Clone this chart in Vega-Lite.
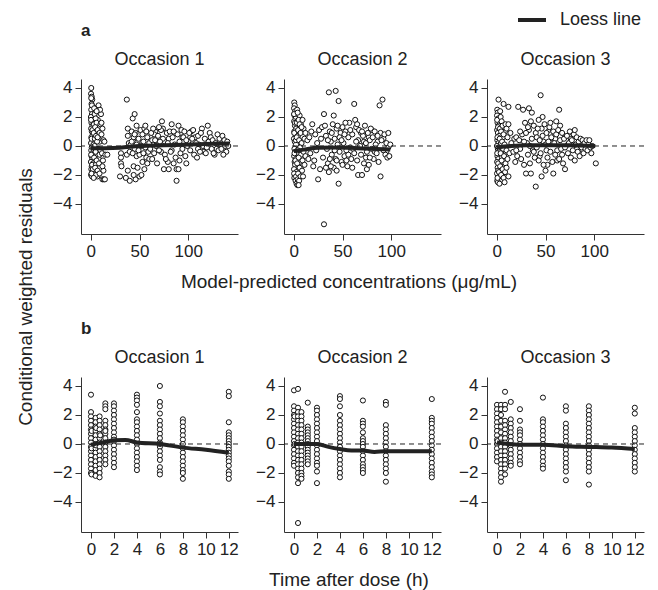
{
"$schema":"https://vega.github.io/schema/vega-lite/v6.json",
"padding":{"left":16,"top":4,"right":5,"bottom":0},
"config":{"font":"Liberation Sans","view":{"stroke":null},
"axis":{"grid":false,"domainColor":"#333","tickColor":"#333","labelColor":"#222","labelFontSize":17,"tickSize":6,"labelPadding":3,"labelFlush":false,"labelOverlap":false,"titleFontWeight":"normal"},
"header":{"labelFontSize":18,"labelColor":"#222","titleColor":"#222"},
"title":{"color":"#222"}},
"title":{"text":"Conditional weighted residuals","orient":"left","anchor":"middle","fontSize":19,"fontWeight":"normal","offset":17},
"datasets":{
"A":[
{"o":1,"x":0.5,"y":4.0},{"o":1,"x":0.3,"y":3.6},{"o":1,"x":1,"y":3.4},{"o":1,"x":1.5,"y":3.2},{"o":1,"x":0.8,"y":2.9},{"o":1,"x":2,"y":2.7},{"o":1,"x":0.5,"y":2.5},{"o":1,"x":1.2,"y":2.2},{"o":1,"x":0.2,"y":2.0},{"o":1,"x":2.5,"y":1.8},{"o":1,"x":0.7,"y":1.6},{"o":1,"x":1.8,"y":1.4},{"o":1,"x":0.4,"y":1.2},{"o":1,"x":1.1,"y":1.0},{"o":1,"x":2.2,"y":0.8},{"o":1,"x":0.6,"y":0.6},{"o":1,"x":1.5,"y":0.4},{"o":1,"x":0.3,"y":0.2},{"o":1,"x":2.8,"y":0.1},{"o":1,"x":1.0,"y":-0.1},{"o":1,"x":0.5,"y":-0.3},{"o":1,"x":2.0,"y":-0.5},{"o":1,"x":0.8,"y":-0.7},{"o":1,"x":1.6,"y":-0.9},{"o":1,"x":0.2,"y":-1.1},{"o":1,"x":2.4,"y":-1.2},{"o":1,"x":1.0,"y":-1.4},{"o":1,"x":0.6,"y":-1.6},{"o":1,"x":1.9,"y":-1.8},{"o":1,"x":0.4,"y":-2.0},{"o":1,"x":1.3,"y":-2.1},
{"o":1,"x":0.5,"y":3.3},{"o":1,"x":1.2,"y":2.8},{"o":1,"x":0.3,"y":1.8},{"o":1,"x":1.7,"y":1.1},{"o":1,"x":0.9,"y":0.5},{"o":1,"x":2.6,"y":-0.2},{"o":1,"x":0.4,"y":-0.6},{"o":1,"x":1.4,"y":-1.3},{"o":1,"x":2.2,"y":-1.6},{"o":1,"x":0.8,"y":-1.9},{"o":1,"x":3.2,"y":1.5},{"o":1,"x":4.2,"y":0.5},{"o":1,"x":5.2,"y":-1.3},{"o":1,"x":6.2,"y":-0.6},{"o":1,"x":7.2,"y":1.8},{"o":1,"x":8.2,"y":-0.9},{"o":1,"x":9.2,"y":0.3},{"o":1,"x":10.5,"y":2.2},{"o":1,"x":4.8,"y":2.6},{"o":1,"x":6.8,"y":-2.1},
{"o":1,"x":3.5,"y":2.6},{"o":1,"x":4,"y":2.2},{"o":1,"x":5,"y":1.9},{"o":1,"x":6,"y":1.6},{"o":1,"x":4.5,"y":1.3},{"o":1,"x":7,"y":1.1},{"o":1,"x":3,"y":0.9},{"o":1,"x":5.5,"y":0.7},{"o":1,"x":8,"y":0.5},{"o":1,"x":6.5,"y":0.3},{"o":1,"x":4,"y":0.0},{"o":1,"x":7.5,"y":-0.2},{"o":1,"x":5,"y":-0.4},{"o":1,"x":9,"y":-0.6},{"o":1,"x":3.5,"y":-0.8},{"o":1,"x":6,"y":-1.0},{"o":1,"x":8.5,"y":-1.2},{"o":1,"x":4.5,"y":-1.5},{"o":1,"x":7,"y":-1.7},{"o":1,"x":5.5,"y":-2.0},{"o":1,"x":3,"y":-2.2},{"o":1,"x":9,"y":-1.9},{"o":1,"x":8,"y":2.8},{"o":1,"x":9.5,"y":2.5},{"o":1,"x":10,"y":1.5},{"o":1,"x":9,"y":0.9},{"o":1,"x":10,"y":-0.3},{"o":1,"x":6,"y":2.4},{"o":1,"x":7,"y":0.6},
{"o":1,"x":11,"y":1.6},{"o":1,"x":12,"y":1.2},{"o":1,"x":13,"y":0.4},{"o":1,"x":11.5,"y":-0.5},{"o":1,"x":12.5,"y":-1.0},{"o":1,"x":13,"y":-1.7},{"o":1,"x":12,"y":-2.3},{"o":1,"x":13.5,"y":-2.3},{"o":1,"x":14.5,"y":-2.3},{"o":1,"x":14,"y":0.3},{"o":1,"x":15,"y":-0.6},{"o":1,"x":17,"y":-0.6},{"o":1,"x":11,"y":0.8},{"o":1,"x":12,"y":-1.4},
{"o":1,"x":31,"y":-0.5},{"o":1,"x":31,"y":-0.8},{"o":1,"x":31,"y":-1.2},{"o":1,"x":31.5,"y":-1.4},{"o":1,"x":30,"y":-2.1},{"o":1,"x":37,"y":3.2},{"o":1,"x":36,"y":-2.2},{"o":1,"x":38,"y":1.2},{"o":1,"x":38,"y":0.7},{"o":1,"x":39,"y":0.2},{"o":1,"x":37,"y":-0.6},{"o":1,"x":40,"y":-0.4},{"o":1,"x":38,"y":-1.7},{"o":1,"x":40,"y":-2.4},
{"o":1,"x":43,"y":1.9},{"o":1,"x":45,"y":2.2},{"o":1,"x":47,"y":1.4},{"o":1,"x":42,"y":1.0},{"o":1,"x":44,"y":0.6},{"o":1,"x":46,"y":0.9},{"o":1,"x":48,"y":0.3},{"o":1,"x":41,"y":0.1},{"o":1,"x":45,"y":-0.2},{"o":1,"x":43,"y":-0.5},{"o":1,"x":47,"y":-0.7},{"o":1,"x":50,"y":-0.6},{"o":1,"x":44,"y":-1.4},{"o":1,"x":48,"y":-1.5},{"o":1,"x":46,"y":-2.3},{"o":1,"x":44,"y":-2.0},{"o":1,"x":50,"y":-2.1},{"o":1,"x":52,"y":-2.0},{"o":1,"x":51,"y":1.1},{"o":1,"x":53,"y":0.8},{"o":1,"x":55,"y":1.2},{"o":1,"x":54,"y":0.3},{"o":1,"x":56,"y":-0.1},{"o":1,"x":57,"y":-0.8},{"o":1,"x":58,"y":0.6},{"o":1,"x":59,"y":-0.4},{"o":1,"x":55,"y":-1.6},{"o":1,"x":52,"y":0.0},{"o":1,"x":49,"y":0.5},{"o":1,"x":53,"y":-1.1},{"o":1,"x":57,"y":1.0},{"o":1,"x":60,"y":0.2},
{"o":1,"x":42,"y":0.3},{"o":1,"x":45,"y":0.8},{"o":1,"x":49,"y":-0.3},{"o":1,"x":54,"y":-0.5},{"o":1,"x":56,"y":1.4},{"o":1,"x":60,"y":-0.9},{"o":1,"x":63,"y":0.4},{"o":1,"x":66,"y":1.0},{"o":1,"x":68,"y":0.2},{"o":1,"x":72,"y":-0.4},{"o":1,"x":74,"y":1.2},{"o":1,"x":76,"y":0.3},{"o":1,"x":80,"y":0.5},{"o":1,"x":83,"y":-0.3},{"o":1,"x":86,"y":0.9},{"o":1,"x":91,"y":-1.0},{"o":1,"x":94,"y":0.6},{"o":1,"x":100,"y":0.3},{"o":1,"x":103,"y":1.0},{"o":1,"x":107,"y":0.6},{"o":1,"x":111,"y":0.1},{"o":1,"x":114,"y":1.2},{"o":1,"x":116,"y":-0.4},{"o":1,"x":122,"y":0.9},{"o":1,"x":129,"y":-0.2},{"o":1,"x":132,"y":0.5},{"o":1,"x":135,"y":0.7},{"o":1,"x":137,"y":0.4},{"o":1,"x":139,"y":-0.4},{"o":1,"x":98,"y":-1.2},{"o":1,"x":79,"y":-1.1},{"o":1,"x":65,"y":0.8},{"o":1,"x":58,"y":-1.2},{"o":1,"x":47,"y":0.1},{"o":1,"x":102,"y":0.6},{"o":1,"x":110,"y":-0.2},
{"o":1,"x":62,"y":0.9},{"o":1,"x":64,"y":1.2},{"o":1,"x":66,"y":0.4},{"o":1,"x":65,"y":-0.5},{"o":1,"x":63,"y":-0.9},{"o":1,"x":67,"y":0.0},{"o":1,"x":69,"y":0.7},{"o":1,"x":70,"y":-0.3},{"o":1,"x":68,"y":-1.2},{"o":1,"x":72,"y":1.1},{"o":1,"x":73,"y":1.7},{"o":1,"x":74,"y":0.5},{"o":1,"x":75,"y":-1.6},{"o":1,"x":76,"y":-0.6},{"o":1,"x":78,"y":0.9},{"o":1,"x":79,"y":0.2},{"o":1,"x":80,"y":-1.6},{"o":1,"x":81,"y":1.0},{"o":1,"x":82,"y":-0.4},{"o":1,"x":83,"y":1.5},{"o":1,"x":84,"y":0.6},{"o":1,"x":85,"y":-1.2},{"o":1,"x":86,"y":0.1},{"o":1,"x":87,"y":-0.8},{"o":1,"x":88,"y":-2.4},{"o":1,"x":88,"y":-1.6},{"o":1,"x":90,"y":-1.6},{"o":1,"x":89,"y":0.8},{"o":1,"x":90,"y":1.4},{"o":1,"x":91,"y":0.3},{"o":1,"x":92,"y":-0.5},{"o":1,"x":93,"y":1.1},{"o":1,"x":94,"y":-0.2},{"o":1,"x":95,"y":0.6},{"o":1,"x":96,"y":1.0},{"o":1,"x":97,"y":-0.7},{"o":1,"x":98,"y":0.4},{"o":1,"x":99,"y":0.0},{"o":1,"x":70,"y":1.3},{"o":1,"x":77,"y":-0.9},{"o":1,"x":85,"y":1.0},{"o":1,"x":61,"y":-0.2},{"o":1,"x":71,"y":0.3},
{"o":1,"x":101,"y":0.9},{"o":1,"x":102,"y":-0.3},{"o":1,"x":104,"y":0.5},{"o":1,"x":105,"y":1.1},{"o":1,"x":106,"y":-0.6},{"o":1,"x":108,"y":0.2},{"o":1,"x":110,"y":0.7},{"o":1,"x":112,"y":-0.4},{"o":1,"x":113,"y":0.9},{"o":1,"x":115,"y":0.0},{"o":1,"x":117,"y":0.5},{"o":1,"x":118,"y":-0.5},{"o":1,"x":120,"y":1.4},{"o":1,"x":121,"y":0.3},{"o":1,"x":123,"y":0.6},{"o":1,"x":124,"y":-0.2},{"o":1,"x":125,"y":0.4},{"o":1,"x":127,"y":-0.6},{"o":1,"x":128,"y":0.2},{"o":1,"x":130,"y":0.8},{"o":1,"x":131,"y":-0.3},{"o":1,"x":133,"y":0.1},{"o":1,"x":134,"y":-0.2},{"o":1,"x":136,"y":-0.6},{"o":1,"x":138,"y":0.0},{"o":1,"x":140,"y":0.3},{"o":1,"x":141,"y":0.0},{"o":1,"x":126,"y":-0.5},{"o":1,"x":119,"y":-0.1},{"o":1,"x":109,"y":-0.8},
{"o":2,"x":0.5,"y":3.0},{"o":2,"x":1,"y":2.8},{"o":2,"x":0.3,"y":2.6},{"o":2,"x":1.5,"y":2.4},{"o":2,"x":0.8,"y":2.1},{"o":2,"x":2,"y":1.9},{"o":2,"x":0.4,"y":1.7},{"o":2,"x":1.2,"y":1.4},{"o":2,"x":2.5,"y":1.2},{"o":2,"x":0.6,"y":1.0},{"o":2,"x":1.8,"y":0.8},{"o":2,"x":0.2,"y":0.5},{"o":2,"x":1.1,"y":0.3},{"o":2,"x":2.3,"y":0.1},{"o":2,"x":0.7,"y":-0.2},{"o":2,"x":1.6,"y":-0.4},{"o":2,"x":0.4,"y":-0.7},{"o":2,"x":2.1,"y":-0.9},{"o":2,"x":0.9,"y":-1.1},{"o":2,"x":1.4,"y":-1.3},{"o":2,"x":0.3,"y":-1.6},{"o":2,"x":2.6,"y":-1.8},{"o":2,"x":1.0,"y":-2.0},{"o":2,"x":0.6,"y":-2.2},{"o":2,"x":1.9,"y":-2.4},{"o":2,"x":2.9,"y":-2.6},
{"o":2,"x":0.3,"y":2.2},{"o":2,"x":1.3,"y":1.6},{"o":2,"x":0.5,"y":0.9},{"o":2,"x":2.2,"y":0.4},{"o":2,"x":0.8,"y":-0.5},{"o":2,"x":1.7,"y":-1.0},{"o":2,"x":0.4,"y":-1.9},{"o":2,"x":2.4,"y":-2.1},{"o":2,"x":3.2,"y":1.6},{"o":2,"x":4.3,"y":0.7},{"o":2,"x":5.3,"y":-0.5},{"o":2,"x":6.3,"y":-1.2},{"o":2,"x":7.3,"y":1.5},{"o":2,"x":8.3,"y":-1.4},{"o":2,"x":6,"y":2.1},{"o":2,"x":4,"y":-2.3},
{"o":2,"x":3.5,"y":2.5},{"o":2,"x":4,"y":2.3},{"o":2,"x":5,"y":1.8},{"o":2,"x":6,"y":1.5},{"o":2,"x":4.5,"y":1.1},{"o":2,"x":7,"y":0.9},{"o":2,"x":3,"y":0.6},{"o":2,"x":5.5,"y":0.4},{"o":2,"x":8,"y":0.2},{"o":2,"x":6.5,"y":-0.1},{"o":2,"x":4,"y":-0.3},{"o":2,"x":7.5,"y":-0.6},{"o":2,"x":5,"y":-0.8},{"o":2,"x":9,"y":-1.0},{"o":2,"x":3.5,"y":-1.2},{"o":2,"x":6,"y":-1.5},{"o":2,"x":8.5,"y":-1.7},{"o":2,"x":4.5,"y":-1.9},{"o":2,"x":7,"y":-2.1},{"o":2,"x":5.5,"y":-2.4},{"o":2,"x":3.8,"y":-2.7},{"o":2,"x":5,"y":-2.7},{"o":2,"x":9,"y":1.8},{"o":2,"x":10,"y":1.2},{"o":2,"x":11,"y":0.5},{"o":2,"x":10,"y":-0.4},{"o":2,"x":11,"y":-1.3},{"o":2,"x":12,"y":0.9},{"o":2,"x":12,"y":-0.7},{"o":2,"x":8,"y":1.3},{"o":2,"x":9.5,"y":-2.1},
{"o":2,"x":14,"y":0.4},{"o":2,"x":15,"y":-0.9},{"o":2,"x":16,"y":0.6},{"o":2,"x":17,"y":-0.5},{"o":2,"x":19,"y":1.5},{"o":2,"x":21,"y":-1.0},{"o":2,"x":20,"y":-1.4},{"o":2,"x":22,"y":0.8},{"o":2,"x":24,"y":0.2},{"o":2,"x":25,"y":-2.3},{"o":2,"x":23,"y":-0.3},{"o":2,"x":26,"y":1.1},{"o":2,"x":27,"y":-1.6},{"o":2,"x":28,"y":0.5},{"o":2,"x":29,"y":1.3},{"o":2,"x":30,"y":-0.8},{"o":2,"x":18,"y":1.0},
{"o":2,"x":31,"y":-5.4},{"o":2,"x":31,"y":2.2},{"o":2,"x":36,"y":3.7},{"o":2,"x":43,"y":3.8},{"o":2,"x":46,"y":3.1},{"o":2,"x":41,"y":2.1},{"o":2,"x":32,"y":1.4},{"o":2,"x":33,"y":0.7},{"o":2,"x":34,"y":-0.2},{"o":2,"x":35,"y":-1.2},{"o":2,"x":36,"y":-1.8},{"o":2,"x":37,"y":1.0},{"o":2,"x":38,"y":0.3},{"o":2,"x":39,"y":-0.6},{"o":2,"x":40,"y":1.5},{"o":2,"x":41,"y":-1.5},{"o":2,"x":42,"y":0.5},{"o":2,"x":43,"y":-0.9},{"o":2,"x":44,"y":1.2},{"o":2,"x":45,"y":0.1},{"o":2,"x":46,"y":-2.6},{"o":2,"x":47,"y":-0.4},{"o":2,"x":48,"y":0.9},{"o":2,"x":49,"y":-1.1},{"o":2,"x":50,"y":1.3},{"o":2,"x":51,"y":0.2},{"o":2,"x":52,"y":-0.7},{"o":2,"x":53,"y":1.0},{"o":2,"x":54,"y":-0.3},{"o":2,"x":55,"y":-1.4},{"o":2,"x":56,"y":0.6},{"o":2,"x":57,"y":1.6},{"o":2,"x":58,"y":-0.1},{"o":2,"x":59,"y":-0.9},{"o":2,"x":60,"y":0.8},{"o":2,"x":38,"y":-1.4},{"o":2,"x":44,"y":-1.7},{"o":2,"x":50,"y":-1.3},
{"o":2,"x":33,"y":-1.5},{"o":2,"x":35,"y":0.4},{"o":2,"x":37,"y":-0.9},{"o":2,"x":39,"y":0.9},{"o":2,"x":42,"y":-0.3},{"o":2,"x":45,"y":1.4},{"o":2,"x":47,"y":0.6},{"o":2,"x":49,"y":0.4},{"o":2,"x":52,"y":0.8},{"o":2,"x":54,"y":-1.0},{"o":2,"x":56,"y":-0.6},{"o":2,"x":58,"y":1.1},{"o":2,"x":61,"y":-0.2},{"o":2,"x":64,"y":1.3},{"o":2,"x":66,"y":0.4},{"o":2,"x":69,"y":0.9},{"o":2,"x":72,"y":0.3},{"o":2,"x":74,"y":-0.8},{"o":2,"x":77,"y":0.6},{"o":2,"x":80,"y":1.1},{"o":2,"x":83,"y":-0.4},{"o":2,"x":86,"y":0.3},{"o":2,"x":89,"y":0.9},{"o":2,"x":92,"y":0.5},{"o":2,"x":95,"y":-0.4},{"o":2,"x":97,"y":-0.1},{"o":2,"x":44,"y":-1.0},{"o":2,"x":60,"y":-1.5},{"o":2,"x":75,"y":-1.6},{"o":2,"x":53,"y":1.6},
{"o":2,"x":62,"y":2.9},{"o":2,"x":62,"y":-0.5},{"o":2,"x":63,"y":1.8},{"o":2,"x":64,"y":0.3},{"o":2,"x":65,"y":-1.0},{"o":2,"x":66,"y":-2.0},{"o":2,"x":67,"y":1.1},{"o":2,"x":68,"y":0.0},{"o":2,"x":69,"y":-0.6},{"o":2,"x":70,"y":-2.0},{"o":2,"x":71,"y":0.7},{"o":2,"x":72,"y":-1.2},{"o":2,"x":73,"y":1.4},{"o":2,"x":74,"y":0.2},{"o":2,"x":75,"y":-0.4},{"o":2,"x":76,"y":0.9},{"o":2,"x":77,"y":-1.3},{"o":2,"x":78,"y":0.4},{"o":2,"x":79,"y":1.2},{"o":2,"x":80,"y":-0.2},{"o":2,"x":81,"y":0.6},{"o":2,"x":82,"y":-0.9},{"o":2,"x":83,"y":1.0},{"o":2,"x":84,"y":0.1},{"o":2,"x":85,"y":-0.5},{"o":2,"x":86,"y":0.7},{"o":2,"x":87,"y":-1.1},{"o":2,"x":88,"y":2.8},{"o":2,"x":89,"y":-2.1},{"o":2,"x":90,"y":0.4},{"o":2,"x":91,"y":3.2},{"o":2,"x":92,"y":-0.3},{"o":2,"x":93,"y":0.8},{"o":2,"x":94,"y":-0.6},{"o":2,"x":95,"y":0.2},{"o":2,"x":96,"y":-0.8},{"o":2,"x":97,"y":0.9},{"o":2,"x":98,"y":-0.7},{"o":2,"x":99,"y":0.1},{"o":2,"x":65,"y":1.5},{"o":2,"x":70,"y":1.0},{"o":2,"x":78,"y":-0.8},
{"o":3,"x":1.8,"y":3.2},{"o":3,"x":0.5,"y":2.5},{"o":3,"x":1,"y":2.3},{"o":3,"x":0.3,"y":2.1},{"o":3,"x":1.5,"y":1.9},{"o":3,"x":0.8,"y":1.6},{"o":3,"x":2,"y":1.4},{"o":3,"x":0.4,"y":1.1},{"o":3,"x":1.2,"y":0.9},{"o":3,"x":2.5,"y":0.7},{"o":3,"x":0.6,"y":0.4},{"o":3,"x":1.8,"y":0.2},{"o":3,"x":0.2,"y":0.0},{"o":3,"x":1.1,"y":-0.2},{"o":3,"x":2.3,"y":-0.4},{"o":3,"x":0.7,"y":-0.7},{"o":3,"x":1.6,"y":-0.9},{"o":3,"x":0.4,"y":-1.1},{"o":3,"x":2.1,"y":-1.3},{"o":3,"x":0.9,"y":-1.5},{"o":3,"x":1.4,"y":-1.7},{"o":3,"x":0.3,"y":-1.9},{"o":3,"x":2.6,"y":-2.1},{"o":3,"x":0.5,"y":-2.4},{"o":3,"x":1.2,"y":-2.5},{"o":3,"x":2.8,"y":-2.6},
{"o":3,"x":0.4,"y":1.8},{"o":3,"x":1.3,"y":1.3},{"o":3,"x":0.7,"y":0.6},{"o":3,"x":2.0,"y":-0.1},{"o":3,"x":0.5,"y":-0.5},{"o":3,"x":1.5,"y":-1.2},{"o":3,"x":2.3,"y":-1.8},{"o":3,"x":0.8,"y":-2.2},{"o":3,"x":3.3,"y":1.2},{"o":3,"x":4.3,"y":0.2},{"o":3,"x":5.3,"y":-0.8},{"o":3,"x":6.3,"y":0.6},{"o":3,"x":7.3,"y":-1.4},{"o":3,"x":8.3,"y":1.0},{"o":3,"x":9.3,"y":-0.4},{"o":3,"x":3.5,"y":2.4},
{"o":3,"x":7,"y":2.9},{"o":3,"x":12,"y":2.7},{"o":3,"x":4,"y":2.0},{"o":3,"x":5,"y":1.7},{"o":3,"x":6,"y":1.4},{"o":3,"x":4.5,"y":1.0},{"o":3,"x":7,"y":0.8},{"o":3,"x":3,"y":0.5},{"o":3,"x":5.5,"y":0.3},{"o":3,"x":8,"y":0.1},{"o":3,"x":6.5,"y":-0.2},{"o":3,"x":4,"y":-0.5},{"o":3,"x":7.5,"y":-0.7},{"o":3,"x":5,"y":-1.0},{"o":3,"x":9,"y":-1.2},{"o":3,"x":3.5,"y":-1.4},{"o":3,"x":6,"y":-1.6},{"o":3,"x":8.5,"y":-1.8},{"o":3,"x":4.5,"y":-2.0},{"o":3,"x":7,"y":-2.2},{"o":3,"x":9,"y":1.5},{"o":3,"x":10,"y":1.2},{"o":3,"x":11,"y":0.6},{"o":3,"x":10,"y":-0.3},{"o":3,"x":11,"y":-0.9},{"o":3,"x":12,"y":1.5},{"o":3,"x":13,"y":-0.5},{"o":3,"x":14,"y":0.9},{"o":3,"x":12,"y":-2.1},{"o":3,"x":15,"y":0.2},{"o":3,"x":10,"y":-1.5},{"o":3,"x":8,"y":-2.5},
{"o":3,"x":17,"y":-0.4},{"o":3,"x":18,"y":0.5},{"o":3,"x":19,"y":-1.1},{"o":3,"x":20,"y":0.6},{"o":3,"x":21,"y":-0.7},{"o":3,"x":22,"y":2.7},{"o":3,"x":23,"y":0.4},{"o":3,"x":24,"y":-0.2},{"o":3,"x":25,"y":-0.9},{"o":3,"x":26,"y":0.8},{"o":3,"x":27,"y":2.5},{"o":3,"x":28,"y":-1.3},{"o":3,"x":29,"y":1.6},{"o":3,"x":30,"y":-1.9},{"o":3,"x":31,"y":0.2},{"o":3,"x":32,"y":-0.6},{"o":3,"x":33,"y":2.6},{"o":3,"x":33,"y":1.1},{"o":3,"x":34,"y":-1.2},{"o":3,"x":35,"y":-1.9},{"o":3,"x":36,"y":2.3},{"o":3,"x":36,"y":0.5},{"o":3,"x":37,"y":-0.3},{"o":3,"x":38,"y":1.4},{"o":3,"x":39,"y":-0.8},{"o":3,"x":40,"y":-2.8},{"o":3,"x":40,"y":0.9},{"o":3,"x":30,"y":0.9},{"o":3,"x":35,"y":1.7},
{"o":3,"x":20,"y":-0.3},{"o":3,"x":24,"y":1.0},{"o":3,"x":28,"y":0.3},{"o":3,"x":32,"y":1.3},{"o":3,"x":34,"y":0.0},{"o":3,"x":38,"y":-0.4},{"o":3,"x":41,"y":0.6},{"o":3,"x":44,"y":-0.7},{"o":3,"x":46,"y":1.2},{"o":3,"x":48,"y":0.3},{"o":3,"x":51,"y":-0.3},{"o":3,"x":53,"y":1.0},{"o":3,"x":55,"y":0.8},{"o":3,"x":57,"y":0.2},{"o":3,"x":60,"y":0.5},{"o":3,"x":62,"y":-1.0},{"o":3,"x":65,"y":1.4},{"o":3,"x":67,"y":-0.6},{"o":3,"x":70,"y":0.6},{"o":3,"x":73,"y":0.1},{"o":3,"x":76,"y":0.5},{"o":3,"x":78,"y":0.9},{"o":3,"x":82,"y":-0.2},{"o":3,"x":85,"y":0.2},{"o":3,"x":88,"y":-0.3},{"o":3,"x":92,"y":-0.1},{"o":3,"x":61,"y":1.7},{"o":3,"x":52,"y":-1.3},
{"o":3,"x":41,"y":-0.1},{"o":3,"x":42,"y":1.2},{"o":3,"x":43,"y":-1.0},{"o":3,"x":44,"y":0.4},{"o":3,"x":45,"y":3.5},{"o":3,"x":45,"y":-0.5},{"o":3,"x":46,"y":-2.1},{"o":3,"x":47,"y":2.0},{"o":3,"x":47,"y":0.7},{"o":3,"x":48,"y":-1.3},{"o":3,"x":49,"y":1.5},{"o":3,"x":50,"y":-1.7},{"o":3,"x":50,"y":0.1},{"o":3,"x":51,"y":0.9},{"o":3,"x":52,"y":-0.8},{"o":3,"x":53,"y":0.3},{"o":3,"x":54,"y":1.3},{"o":3,"x":55,"y":-0.4},{"o":3,"x":56,"y":0.6},{"o":3,"x":57,"y":-1.1},{"o":3,"x":58,"y":-1.9},{"o":3,"x":58,"y":1.0},{"o":3,"x":59,"y":0.2},{"o":3,"x":60,"y":-0.6},{"o":3,"x":61,"y":0.8},{"o":3,"x":62,"y":-0.3},{"o":3,"x":63,"y":1.1},{"o":3,"x":64,"y":2.5},{"o":3,"x":64,"y":-0.9},{"o":3,"x":65,"y":0.4},{"o":3,"x":66,"y":-0.2},{"o":3,"x":67,"y":0.9},{"o":3,"x":68,"y":-1.2},{"o":3,"x":69,"y":0.5},{"o":3,"x":70,"y":-1.6},{"o":3,"x":70,"y":-0.1},{"o":3,"x":55,"y":1.6},{"o":3,"x":43,"y":1.8},
{"o":3,"x":72,"y":0.7},{"o":3,"x":73,"y":-0.5},{"o":3,"x":74,"y":0.2},{"o":3,"x":75,"y":1.0},{"o":3,"x":76,"y":-0.8},{"o":3,"x":77,"y":0.4},{"o":3,"x":78,"y":-0.3},{"o":3,"x":79,"y":0.8},{"o":3,"x":80,"y":-1.0},{"o":3,"x":81,"y":0.1},{"o":3,"x":82,"y":0.6},{"o":3,"x":83,"y":-0.4},{"o":3,"x":84,"y":0.3},{"o":3,"x":85,"y":-0.7},{"o":3,"x":86,"y":0.5},{"o":3,"x":87,"y":-0.1},{"o":3,"x":88,"y":0.4},{"o":3,"x":89,"y":-0.5},{"o":3,"x":90,"y":0.2},{"o":3,"x":91,"y":-0.2},{"o":3,"x":92,"y":0.4},{"o":3,"x":93,"y":-0.3},{"o":3,"x":94,"y":0.1},{"o":3,"x":95,"y":0.4},{"o":3,"x":96,"y":-0.1},{"o":3,"x":97,"y":-0.5},{"o":3,"x":98,"y":0.0},{"o":3,"x":101.6,"y":-1.2},{"o":3,"x":80,"y":1.1},
{"o":1,"x":0,"y":-0.15,"s":"loess"},{"o":1,"x":15,"y":-0.15,"s":"loess"},{"o":1,"x":30,"y":-0.12,"s":"loess"},{"o":1,"x":50,"y":0,"s":"loess"},{"o":1,"x":75,"y":0.05,"s":"loess"},{"o":1,"x":100,"y":0.1,"s":"loess"},{"o":1,"x":125,"y":0.15,"s":"loess"},{"o":1,"x":142,"y":0.18,"s":"loess"},
{"o":2,"x":0,"y":-0.35,"s":"loess"},{"o":2,"x":10,"y":-0.25,"s":"loess"},{"o":2,"x":25,"y":-0.12,"s":"loess"},{"o":2,"x":45,"y":-0.1,"s":"loess"},{"o":2,"x":65,"y":-0.15,"s":"loess"},{"o":2,"x":85,"y":-0.2,"s":"loess"},{"o":2,"x":99,"y":-0.25,"s":"loess"},
{"o":3,"x":0,"y":-0.1,"s":"loess"},{"o":3,"x":15,"y":0.0,"s":"loess"},{"o":3,"x":30,"y":0.05,"s":"loess"},{"o":3,"x":50,"y":0.05,"s":"loess"},{"o":3,"x":75,"y":0.05,"s":"loess"},{"o":3,"x":101,"y":0.0,"s":"loess"}
],
"B":[
{"o":1,"x":0,"y":3.4},{"o":1,"x":0,"y":2.2},{"o":1,"x":0,"y":1.9},{"o":1,"x":0,"y":1.6},{"o":1,"x":0,"y":1.3},{"o":1,"x":0,"y":1.0},{"o":1,"x":0,"y":0.7},{"o":1,"x":0,"y":0.4},{"o":1,"x":0,"y":0.1},{"o":1,"x":0,"y":-0.2},{"o":1,"x":0,"y":-0.5},{"o":1,"x":0,"y":-0.8},{"o":1,"x":0,"y":-1.1},{"o":1,"x":0,"y":-1.4},{"o":1,"x":0,"y":-1.7},{"o":1,"x":0,"y":-2.0},{"o":1,"x":0.05,"y":-2.1},{"o":1,"x":0.05,"y":0.9},{"o":1,"x":0.05,"y":-0.3},
{"o":1,"x":0.4,"y":1.8},{"o":1,"x":0.4,"y":1.5},{"o":1,"x":0.4,"y":1.2},{"o":1,"x":0.4,"y":0.9},{"o":1,"x":0.4,"y":0.6},{"o":1,"x":0.4,"y":0.3},{"o":1,"x":0.4,"y":0.0},{"o":1,"x":0.4,"y":-0.3},{"o":1,"x":0.4,"y":-0.6},{"o":1,"x":0.4,"y":-0.9},{"o":1,"x":0.4,"y":-1.2},{"o":1,"x":0.4,"y":-1.5},{"o":1,"x":0.4,"y":-1.8},{"o":1,"x":0.4,"y":-2.2},{"o":1,"x":0.45,"y":1.1},{"o":1,"x":0.45,"y":-0.1},
{"o":1,"x":0.75,"y":1.9},{"o":1,"x":0.75,"y":1.6},{"o":1,"x":0.75,"y":1.3},{"o":1,"x":0.75,"y":1.0},{"o":1,"x":0.75,"y":0.7},{"o":1,"x":0.75,"y":0.4},{"o":1,"x":0.75,"y":0.1},{"o":1,"x":0.75,"y":-0.2},{"o":1,"x":0.75,"y":-0.5},{"o":1,"x":0.75,"y":-0.8},{"o":1,"x":0.75,"y":-1.1},{"o":1,"x":0.75,"y":-1.4},{"o":1,"x":0.75,"y":-1.7},{"o":1,"x":0.75,"y":-2.0},{"o":1,"x":0.75,"y":-2.3},{"o":1,"x":0.8,"y":0.6},
{"o":1,"x":1.25,"y":2.8},{"o":1,"x":1.25,"y":2.6},{"o":1,"x":1.25,"y":2.4},{"o":1,"x":1.25,"y":1.6},{"o":1,"x":1.25,"y":1.3},{"o":1,"x":1.25,"y":1.0},{"o":1,"x":1.25,"y":0.7},{"o":1,"x":1.25,"y":0.4},{"o":1,"x":1.25,"y":0.1},{"o":1,"x":1.25,"y":-0.2},{"o":1,"x":1.25,"y":-0.5},{"o":1,"x":1.25,"y":-0.8},{"o":1,"x":1.25,"y":-1.1},{"o":1,"x":1.25,"y":-1.4},{"o":1,"x":1.25,"y":0.9},
{"o":1,"x":2,"y":2.8},{"o":1,"x":2,"y":2.6},{"o":1,"x":2,"y":2.3},{"o":1,"x":2,"y":2.0},{"o":1,"x":2,"y":1.7},{"o":1,"x":2,"y":1.4},{"o":1,"x":2,"y":1.1},{"o":1,"x":2,"y":0.8},{"o":1,"x":2,"y":0.5},{"o":1,"x":2,"y":0.2},{"o":1,"x":2,"y":-0.1},{"o":1,"x":2,"y":-0.4},{"o":1,"x":2,"y":-0.7},{"o":1,"x":2,"y":-1.0},{"o":1,"x":2,"y":-1.3},{"o":1,"x":2,"y":-1.6},{"o":1,"x":2,"y":0.3},
{"o":1,"x":4,"y":3.4},{"o":1,"x":4,"y":3.2},{"o":1,"x":4,"y":3.0},{"o":1,"x":4,"y":2.7},{"o":1,"x":4,"y":2.2},{"o":1,"x":4,"y":1.7},{"o":1,"x":4,"y":1.5},{"o":1,"x":4,"y":1.2},{"o":1,"x":4,"y":0.9},{"o":1,"x":4,"y":0.6},{"o":1,"x":4,"y":0.3},{"o":1,"x":4,"y":0.0},{"o":1,"x":4,"y":-0.3},{"o":1,"x":4,"y":-0.6},{"o":1,"x":4,"y":-0.9},{"o":1,"x":4,"y":-1.2},{"o":1,"x":4,"y":-1.5},{"o":1,"x":4,"y":-1.8},
{"o":1,"x":6,"y":4.0},{"o":1,"x":6,"y":2.9},{"o":1,"x":6,"y":2.6},{"o":1,"x":6,"y":2.1},{"o":1,"x":6,"y":1.6},{"o":1,"x":6,"y":1.3},{"o":1,"x":6,"y":1.0},{"o":1,"x":6,"y":0.7},{"o":1,"x":6,"y":0.4},{"o":1,"x":6,"y":0.1},{"o":1,"x":6,"y":-0.2},{"o":1,"x":6,"y":-0.5},{"o":1,"x":6,"y":-0.8},{"o":1,"x":6,"y":-1.1},{"o":1,"x":6,"y":-1.6},{"o":1,"x":6,"y":-1.9},{"o":1,"x":6,"y":-2.1},{"o":1,"x":6,"y":0.0},
{"o":1,"x":8,"y":1.7},{"o":1,"x":8,"y":1.5},{"o":1,"x":8,"y":1.2},{"o":1,"x":8,"y":0.9},{"o":1,"x":8,"y":0.6},{"o":1,"x":8,"y":0.3},{"o":1,"x":8,"y":0.0},{"o":1,"x":8,"y":-0.3},{"o":1,"x":8,"y":-0.6},{"o":1,"x":8,"y":-0.9},{"o":1,"x":8,"y":-1.2},{"o":1,"x":8,"y":-1.5},{"o":1,"x":8,"y":-1.8},{"o":1,"x":8,"y":-2.0},{"o":1,"x":8,"y":-2.4},
{"o":1,"x":12,"y":3.6},{"o":1,"x":12,"y":3.3},{"o":1,"x":12,"y":1.5},{"o":1,"x":12,"y":0.8},{"o":1,"x":12,"y":0.6},{"o":1,"x":12,"y":0.4},{"o":1,"x":12,"y":0.2},{"o":1,"x":12,"y":0.0},{"o":1,"x":12,"y":-0.2},{"o":1,"x":12,"y":-0.4},{"o":1,"x":12,"y":-0.6},{"o":1,"x":12,"y":-0.8},{"o":1,"x":12,"y":-1.0},{"o":1,"x":12,"y":-1.2},{"o":1,"x":12,"y":-1.5},{"o":1,"x":12,"y":-1.9},{"o":1,"x":12,"y":-2.1},{"o":1,"x":12,"y":-2.4},
{"o":2,"x":0,"y":3.7},{"o":2,"x":0,"y":2.6},{"o":2,"x":0,"y":2.3},{"o":2,"x":0,"y":2.0},{"o":2,"x":0,"y":1.7},{"o":2,"x":0,"y":1.4},{"o":2,"x":0,"y":1.1},{"o":2,"x":0,"y":0.8},{"o":2,"x":0,"y":0.5},{"o":2,"x":0,"y":0.2},{"o":2,"x":0,"y":-0.1},{"o":2,"x":0,"y":-0.4},{"o":2,"x":0,"y":-0.7},{"o":2,"x":0,"y":-1.0},{"o":2,"x":0,"y":-1.3},{"o":2,"x":0,"y":-1.5},{"o":2,"x":0.05,"y":1.9},{"o":2,"x":0.05,"y":0.0},
{"o":2,"x":0.35,"y":3.8},{"o":2,"x":0.35,"y":2.5},{"o":2,"x":0.35,"y":2.2},{"o":2,"x":0.35,"y":1.9},{"o":2,"x":0.35,"y":1.6},{"o":2,"x":0.35,"y":1.3},{"o":2,"x":0.35,"y":1.0},{"o":2,"x":0.35,"y":0.7},{"o":2,"x":0.35,"y":0.4},{"o":2,"x":0.35,"y":0.1},{"o":2,"x":0.35,"y":-0.2},{"o":2,"x":0.35,"y":-0.5},{"o":2,"x":0.35,"y":-0.8},{"o":2,"x":0.35,"y":-1.1},{"o":2,"x":0.35,"y":-1.4},{"o":2,"x":0.35,"y":-1.7},{"o":2,"x":0.35,"y":-2.0},{"o":2,"x":0.35,"y":-2.3},{"o":2,"x":0.35,"y":-2.7},{"o":2,"x":0.35,"y":-5.45},
{"o":2,"x":0.65,"y":2.2},{"o":2,"x":0.65,"y":1.9},{"o":2,"x":0.65,"y":1.6},{"o":2,"x":0.65,"y":1.3},{"o":2,"x":0.65,"y":1.0},{"o":2,"x":0.65,"y":0.7},{"o":2,"x":0.65,"y":0.4},{"o":2,"x":0.65,"y":0.1},{"o":2,"x":0.65,"y":-0.2},{"o":2,"x":0.65,"y":-0.5},{"o":2,"x":0.65,"y":-0.8},{"o":2,"x":0.65,"y":-1.1},{"o":2,"x":0.65,"y":-1.4},{"o":2,"x":0.65,"y":-1.7},{"o":2,"x":0.65,"y":-2.0},{"o":2,"x":0.65,"y":-2.2},{"o":2,"x":0.65,"y":-2.4},
{"o":2,"x":1.2,"y":2.85},{"o":2,"x":1.2,"y":1.2},{"o":2,"x":1.2,"y":1.0},{"o":2,"x":1.2,"y":0.8},{"o":2,"x":1.2,"y":0.6},{"o":2,"x":1.2,"y":0.4},{"o":2,"x":1.2,"y":0.2},{"o":2,"x":1.2,"y":0.0},{"o":2,"x":1.2,"y":-0.2},{"o":2,"x":1.2,"y":-0.4},{"o":2,"x":1.2,"y":-0.6},{"o":2,"x":1.2,"y":-0.8},{"o":2,"x":1.2,"y":-1.0},{"o":2,"x":1.2,"y":-1.2},{"o":2,"x":1.2,"y":-1.4},
{"o":2,"x":2,"y":2.5},{"o":2,"x":2,"y":2.3},{"o":2,"x":2,"y":2.0},{"o":2,"x":2,"y":1.7},{"o":2,"x":2,"y":1.4},{"o":2,"x":2,"y":1.1},{"o":2,"x":2,"y":0.8},{"o":2,"x":2,"y":0.5},{"o":2,"x":2,"y":0.2},{"o":2,"x":2,"y":-0.1},{"o":2,"x":2,"y":-0.4},{"o":2,"x":2,"y":-0.7},{"o":2,"x":2,"y":-1.0},{"o":2,"x":2,"y":-1.3},{"o":2,"x":2,"y":-1.5},{"o":2,"x":2,"y":-1.9},{"o":2,"x":2,"y":-2.7},
{"o":2,"x":4,"y":3.3},{"o":2,"x":4,"y":3.1},{"o":2,"x":4,"y":2.6},{"o":2,"x":4,"y":2.0},{"o":2,"x":4,"y":1.6},{"o":2,"x":4,"y":1.3},{"o":2,"x":4,"y":1.0},{"o":2,"x":4,"y":0.7},{"o":2,"x":4,"y":0.4},{"o":2,"x":4,"y":0.1},{"o":2,"x":4,"y":-0.2},{"o":2,"x":4,"y":-0.5},{"o":2,"x":4,"y":-0.8},{"o":2,"x":4,"y":-1.1},{"o":2,"x":4,"y":-1.4},{"o":2,"x":4,"y":-1.7},{"o":2,"x":4,"y":-2.0},{"o":2,"x":4,"y":-2.3},
{"o":2,"x":6,"y":3.0},{"o":2,"x":6,"y":1.6},{"o":2,"x":6,"y":1.4},{"o":2,"x":6,"y":1.2},{"o":2,"x":6,"y":0.8},{"o":2,"x":6,"y":0.4},{"o":2,"x":6,"y":0.2},{"o":2,"x":6,"y":0.0},{"o":2,"x":6,"y":-0.2},{"o":2,"x":6,"y":-0.5},{"o":2,"x":6,"y":-0.8},{"o":2,"x":6,"y":-1.1},{"o":2,"x":6,"y":-1.4},{"o":2,"x":6,"y":-1.6},{"o":2,"x":6,"y":-1.8},{"o":2,"x":6,"y":-2.0},
{"o":2,"x":8,"y":2.9},{"o":2,"x":8,"y":2.7},{"o":2,"x":8,"y":1.3},{"o":2,"x":8,"y":1.0},{"o":2,"x":8,"y":0.7},{"o":2,"x":8,"y":0.4},{"o":2,"x":8,"y":0.1},{"o":2,"x":8,"y":-0.2},{"o":2,"x":8,"y":-0.5},{"o":2,"x":8,"y":-0.8},{"o":2,"x":8,"y":-1.1},{"o":2,"x":8,"y":-1.4},{"o":2,"x":8,"y":-1.7},{"o":2,"x":8,"y":-2.0},{"o":2,"x":8,"y":-2.6},
{"o":2,"x":12,"y":3.1},{"o":2,"x":12,"y":1.8},{"o":2,"x":12,"y":1.6},{"o":2,"x":12,"y":1.4},{"o":2,"x":12,"y":1.1},{"o":2,"x":12,"y":0.8},{"o":2,"x":12,"y":0.5},{"o":2,"x":12,"y":0.2},{"o":2,"x":12,"y":-0.1},{"o":2,"x":12,"y":-0.4},{"o":2,"x":12,"y":-0.7},{"o":2,"x":12,"y":-1.0},{"o":2,"x":12,"y":-1.3},{"o":2,"x":12,"y":-1.6},{"o":2,"x":12,"y":-1.9},{"o":2,"x":12,"y":-2.1},{"o":2,"x":12,"y":-2.3},
{"o":3,"x":0,"y":2.7},{"o":3,"x":0,"y":2.4},{"o":3,"x":0,"y":2.1},{"o":3,"x":0,"y":1.8},{"o":3,"x":0,"y":1.5},{"o":3,"x":0,"y":1.2},{"o":3,"x":0,"y":0.9},{"o":3,"x":0,"y":0.6},{"o":3,"x":0,"y":0.3},{"o":3,"x":0,"y":0.0},{"o":3,"x":0,"y":-0.3},{"o":3,"x":0,"y":-0.6},{"o":3,"x":0,"y":-0.9},{"o":3,"x":0,"y":-1.2},{"o":3,"x":0.05,"y":0.2},
{"o":3,"x":0.35,"y":2.7},{"o":3,"x":0.35,"y":2.4},{"o":3,"x":0.35,"y":2.0},{"o":3,"x":0.35,"y":1.6},{"o":3,"x":0.35,"y":1.2},{"o":3,"x":0.35,"y":0.8},{"o":3,"x":0.35,"y":0.4},{"o":3,"x":0.35,"y":0.1},{"o":3,"x":0.35,"y":-0.2},{"o":3,"x":0.35,"y":-0.5},{"o":3,"x":0.35,"y":-0.8},{"o":3,"x":0.35,"y":-1.1},{"o":3,"x":0.35,"y":-1.4},{"o":3,"x":0.35,"y":-1.7},{"o":3,"x":0.35,"y":-2.0},{"o":3,"x":0.35,"y":-2.3},{"o":3,"x":0.35,"y":-2.6},
{"o":3,"x":0.7,"y":3.6},{"o":3,"x":0.7,"y":2.7},{"o":3,"x":0.7,"y":2.4},{"o":3,"x":0.7,"y":1.6},{"o":3,"x":0.7,"y":1.3},{"o":3,"x":0.7,"y":1.0},{"o":3,"x":0.7,"y":0.7},{"o":3,"x":0.7,"y":0.4},{"o":3,"x":0.7,"y":0.1},{"o":3,"x":0.7,"y":-0.2},{"o":3,"x":0.7,"y":-0.5},{"o":3,"x":0.7,"y":-0.8},{"o":3,"x":0.7,"y":-1.1},{"o":3,"x":0.7,"y":-1.4},{"o":3,"x":0.7,"y":-1.7},{"o":3,"x":0.7,"y":-2.1},
{"o":3,"x":1.2,"y":2.9},{"o":3,"x":1.2,"y":1.7},{"o":3,"x":1.2,"y":1.4},{"o":3,"x":1.2,"y":1.1},{"o":3,"x":1.2,"y":0.8},{"o":3,"x":1.2,"y":0.5},{"o":3,"x":1.2,"y":0.2},{"o":3,"x":1.2,"y":-0.1},{"o":3,"x":1.2,"y":-0.4},{"o":3,"x":1.2,"y":-0.7},{"o":3,"x":1.2,"y":-1.0},{"o":3,"x":1.2,"y":-1.3},{"o":3,"x":1.2,"y":-1.5},
{"o":3,"x":2,"y":2.4},{"o":3,"x":2,"y":1.6},{"o":3,"x":2,"y":1.0},{"o":3,"x":2,"y":0.8},{"o":3,"x":2,"y":0.6},{"o":3,"x":2,"y":0.3},{"o":3,"x":2,"y":0.0},{"o":3,"x":2,"y":-0.3},{"o":3,"x":2,"y":-0.6},{"o":3,"x":2,"y":-0.9},{"o":3,"x":2,"y":-1.2},{"o":3,"x":2,"y":-1.4},
{"o":3,"x":4,"y":3.2},{"o":3,"x":4,"y":1.7},{"o":3,"x":4,"y":1.5},{"o":3,"x":4,"y":1.2},{"o":3,"x":4,"y":0.9},{"o":3,"x":4,"y":0.6},{"o":3,"x":4,"y":0.3},{"o":3,"x":4,"y":0.0},{"o":3,"x":4,"y":-0.3},{"o":3,"x":4,"y":-0.6},{"o":3,"x":4,"y":-0.9},{"o":3,"x":4,"y":-1.2},{"o":3,"x":4,"y":-1.5},{"o":3,"x":4,"y":-1.7},
{"o":3,"x":6,"y":2.6},{"o":3,"x":6,"y":2.3},{"o":3,"x":6,"y":1.4},{"o":3,"x":6,"y":1.1},{"o":3,"x":6,"y":0.8},{"o":3,"x":6,"y":0.5},{"o":3,"x":6,"y":0.2},{"o":3,"x":6,"y":-0.1},{"o":3,"x":6,"y":-0.4},{"o":3,"x":6,"y":-0.7},{"o":3,"x":6,"y":-1.0},{"o":3,"x":6,"y":-1.3},{"o":3,"x":6,"y":-1.6},{"o":3,"x":6,"y":-1.9},{"o":3,"x":6,"y":-2.5},
{"o":3,"x":8,"y":2.6},{"o":3,"x":8,"y":2.3},{"o":3,"x":8,"y":2.0},{"o":3,"x":8,"y":1.7},{"o":3,"x":8,"y":1.4},{"o":3,"x":8,"y":1.1},{"o":3,"x":8,"y":0.8},{"o":3,"x":8,"y":0.5},{"o":3,"x":8,"y":0.2},{"o":3,"x":8,"y":-0.1},{"o":3,"x":8,"y":-0.4},{"o":3,"x":8,"y":-0.7},{"o":3,"x":8,"y":-1.0},{"o":3,"x":8,"y":-1.3},{"o":3,"x":8,"y":-1.6},{"o":3,"x":8,"y":-1.9},{"o":3,"x":8,"y":-2.8},
{"o":3,"x":12,"y":2.5},{"o":3,"x":12,"y":2.1},{"o":3,"x":12,"y":1.1},{"o":3,"x":12,"y":0.8},{"o":3,"x":12,"y":0.5},{"o":3,"x":12,"y":0.2},{"o":3,"x":12,"y":-0.1},{"o":3,"x":12,"y":-0.4},{"o":3,"x":12,"y":-0.7},{"o":3,"x":12,"y":-1.0},{"o":3,"x":12,"y":-1.3},{"o":3,"x":12,"y":-1.6},{"o":3,"x":12,"y":-1.9},
{"o":1,"x":0,"y":-0.05,"s":"loess"},{"o":1,"x":1,"y":0.1,"s":"loess"},{"o":1,"x":2,"y":0.25,"s":"loess"},{"o":1,"x":3,"y":0.28,"s":"loess"},{"o":1,"x":4,"y":0.1,"s":"loess"},{"o":1,"x":6,"y":0.0,"s":"loess"},{"o":1,"x":8,"y":-0.25,"s":"loess"},{"o":1,"x":10,"y":-0.4,"s":"loess"},{"o":1,"x":12,"y":-0.6,"s":"loess"},
{"o":2,"x":0,"y":0.0,"s":"loess"},{"o":2,"x":2,"y":0.0,"s":"loess"},{"o":2,"x":3,"y":-0.2,"s":"loess"},{"o":2,"x":4,"y":-0.35,"s":"loess"},{"o":2,"x":5,"y":-0.45,"s":"loess"},{"o":2,"x":6,"y":-0.45,"s":"loess"},{"o":2,"x":7,"y":-0.55,"s":"loess"},{"o":2,"x":8,"y":-0.5,"s":"loess"},{"o":2,"x":10,"y":-0.5,"s":"loess"},{"o":2,"x":12,"y":-0.5,"s":"loess"},
{"o":3,"x":0,"y":0.1,"s":"loess"},{"o":3,"x":1,"y":0.0,"s":"loess"},{"o":3,"x":2,"y":-0.05,"s":"loess"},{"o":3,"x":4,"y":-0.05,"s":"loess"},{"o":3,"x":6,"y":-0.15,"s":"loess"},{"o":3,"x":8,"y":-0.2,"s":"loess"},{"o":3,"x":10,"y":-0.25,"s":"loess"},{"o":3,"x":12,"y":-0.35,"s":"loess"}
]},
"vconcat":[
{"data":{"name":"A"},
"title":{"text":"a","anchor":"start","frame":"group","fontSize":17,"fontWeight":"bold","offset":11},
"facet":{"column":{"field":"o","type":"ordinal","header":{"labelExpr":"'Occasion ' + datum.value","title":"Model-predicted concentrations (μg/mL)","titleOrient":"bottom","titleFontSize":19,"titleFontWeight":"normal","labelPadding":9,"titlePadding":4}}},
"spacing":16,
"resolve":{"axis":{"y":"independent"}},
"spec":{"width":157,"height":155,
"layer":[
{"transform":[{"filter":"datum.s !== 'loess'"}],
"mark":{"type":"circle","fill":"white","stroke":"#111","strokeWidth":1,"size":26,"opacity":1},
"encoding":{"x":{"field":"x","type":"quantitative","scale":{"domain":[-10,151],"nice":false,"zero":false},"axis":{"values":[0,50,100],"tickCount":20,"format":"d","title":null,"labelOverlap":false}},
"y":{"field":"y","type":"quantitative","scale":{"domain":[-6.07,4.62],"nice":false},"axis":{"values":[-4,-2,0,2,4],"tickCount":20,"format":"d","title":null,"labelOverlap":false}}}},
{"transform":[{"aggregate":[{"op":"count","as":"n"}],"groupby":["o"]}],
"mark":{"type":"rule","stroke":"#222","strokeWidth":1,"strokeDash":[5,4]},
"encoding":{"y":{"datum":0}}},
{"transform":[{"filter":"datum.s === 'loess'"}],
"mark":{"type":"line","strokeWidth":4,"interpolate":"monotone"},
"encoding":{"x":{"field":"x","type":"quantitative"},"y":{"field":"y","type":"quantitative"},
"stroke":{"datum":"Loess line","type":"nominal","scale":{"range":["#222222"]},"legend":{"title":null,"orient":"none","legendX":435,"legendY":-75,"symbolStrokeWidth":4,"symbolSize":784,"labelFontSize":18,"labelColor":"#222","labelOffset":12}}}}
]}},
{"data":{"name":"B"},
"title":{"text":"b","anchor":"start","frame":"group","fontSize":17,"fontWeight":"bold","offset":11},
"facet":{"column":{"field":"o","type":"ordinal","header":{"labelExpr":"'Occasion ' + datum.value","title":"Time after dose (h)","titleOrient":"bottom","titleFontSize":19,"titleFontWeight":"normal","labelPadding":9,"titlePadding":4}}},
"spacing":16,
"resolve":{"axis":{"y":"independent"}},
"spec":{"width":157,"height":155,
"layer":[
{"transform":[{"filter":"datum.s !== 'loess'"}],
"mark":{"type":"circle","fill":"white","stroke":"#111","strokeWidth":1,"size":26,"opacity":1},
"encoding":{"x":{"field":"x","type":"quantitative","scale":{"domain":[-0.87,12.8],"nice":false,"zero":false},"axis":{"values":[0,2,4,6,8,10,12],"tickCount":20,"format":"d","title":null,"labelOverlap":false}},
"y":{"field":"y","type":"quantitative","scale":{"domain":[-6.07,4.62],"nice":false},"axis":{"values":[-4,-2,0,2,4],"tickCount":20,"format":"d","title":null,"labelOverlap":false}}}},
{"transform":[{"aggregate":[{"op":"count","as":"n"}],"groupby":["o"]}],
"mark":{"type":"rule","stroke":"#222","strokeWidth":1,"strokeDash":[5,4]},
"encoding":{"y":{"datum":0}}},
{"transform":[{"filter":"datum.s === 'loess'"}],
"mark":{"type":"line","strokeWidth":4,"interpolate":"monotone"},
"encoding":{"x":{"field":"x","type":"quantitative"},"y":{"field":"y","type":"quantitative"},
"stroke":{"datum":"Loess line","type":"nominal","scale":{"range":["#222222"]},"legend":null}}}
]}}
],
"spacing":28
}
